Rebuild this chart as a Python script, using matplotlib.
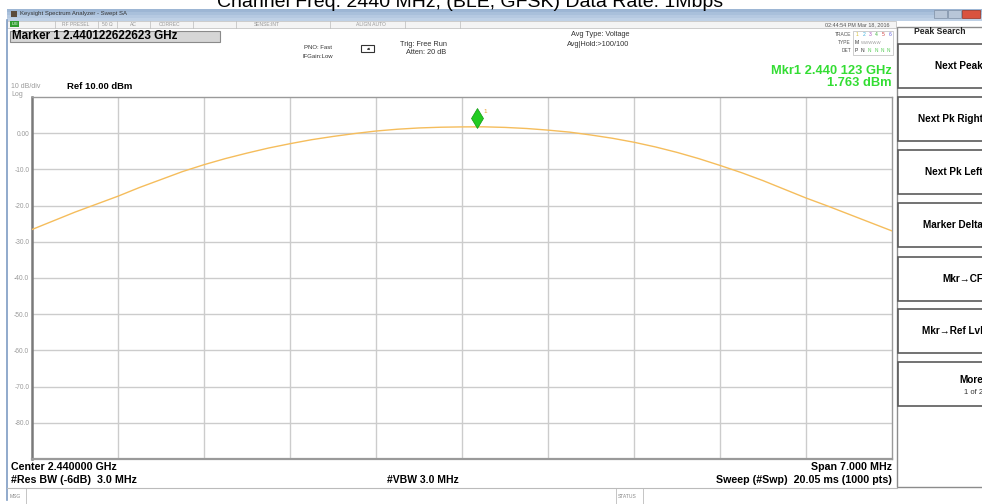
import matplotlib
matplotlib.use("Agg")
import matplotlib.pyplot as plt
from matplotlib.patches import Rectangle
from matplotlib.transforms import offset_copy

W, H = 982, 504
FONT = ["Liberation Sans", "DejaVu Sans"]

# ---- measurement data -------------------------------------------------
center_mhz = 2440.0
span_mhz = 7.0
ref_level_dbm = 10.0
db_per_div = 10.0

# sweep frequencies (MHz) and averaged trace level (dBm)
trace_freq_mhz = [
    2436.500, 2436.675, 2436.850, 2437.025, 2437.200, 2437.375, 2437.550,
    2437.725, 2437.900, 2438.075, 2438.250, 2438.425, 2438.600, 2438.775,
    2438.950, 2439.125, 2439.300, 2439.475, 2439.650, 2439.825, 2440.000,
    2440.175, 2440.350, 2440.525, 2440.700, 2440.875, 2441.050, 2441.225,
    2441.400, 2441.575, 2441.750, 2441.925, 2442.100, 2442.275, 2442.450,
    2442.625, 2442.800, 2442.975, 2443.150, 2443.325, 2443.500,
]
trace_dbm = [
    -26.6, -24.2, -21.8, -19.6, -17.4, -15.0, -12.8, -10.6, -8.7, -7.0,
    -5.5, -4.1, -2.9, -1.8, -0.9, -0.1, 0.6, 1.1, 1.45, 1.65, 1.74,
    1.76, 1.6, 1.3, 0.85, 0.3, -0.5, -1.4, -2.5, -3.8, -5.3, -7.0,
    -8.9, -10.9, -13.1, -15.5, -17.9, -20.1, -22.4, -24.7, -27.0,
]

marker_freq_mhz = 2440.122622623
marker_dbm = 1.763

y_tick_values = [0, -10, -20, -30, -40, -50, -60, -70, -80]
y_tick_labels = ["0.00", "-10.0", "-20.0", "-30.0", "-40.0",
                 "-50.0", "-60.0", "-70.0", "-80.0"]

softkeys = ["Next Peak", "Next Pk Right", "Next Pk Left", "Marker Delta",
            "Mkr\u2192CF", "Mkr\u2192Ref Lvl"]

# ---- figure and screen overlay (pixel coordinates) ---------------------
fig = plt.figure(figsize=(W / 100, H / 100), dpi=100)
fig.patch.set_facecolor("white")
scr = fig.add_axes([0, 0, 1, 1], zorder=0)
scr.set_xlim(0, W)
scr.set_ylim(H, 0)
scr.axis("off")


def txt(x, y, s, size, color="black", weight="normal", ha="left", va="center", **kw):
    scr.text(x, y, s, fontsize=size, color=color, fontweight=weight,
             ha=ha, va=va, family=FONT, **kw)


def box(x0, y0, x1, y1, fc="none", ec="none", lw=1.0, z=1):
    scr.add_patch(Rectangle((x0, y0), x1 - x0, y1 - y0, facecolor=fc,
                            edgecolor=ec, linewidth=lw, zorder=z))


# chart title (runs off the top edge)
txt(470, 7.0, "Channel Freq: 2440 MHz, (BLE, GFSK) Data Rate: 1Mbps", 14,
    ha="center", va="baseline")

# window title bar
for i, c in enumerate(["#9db6d4", "#a9c0db", "#b5c9e1", "#bfd1e6"]):
    box(7, 8.5 + i * 3, W, 11.5 + i * 3, fc=c, z=1)
box(11, 11, 17, 17, fc="#5a4a3a", z=2)
txt(20, 14, "Keysight Spectrum Analyzer - Swept SA", 4.3, color="#333333")
box(934, 10, 947, 18, fc="#b8c6d8", ec="#7f8fa5", lw=0.5, z=2)
box(948, 10, 961, 18, fc="#b8c6d8", ec="#7f8fa5", lw=0.5, z=2)
box(962, 10, 980, 18, fc="#d9533f", ec="#9a3020", lw=0.5, z=2)

# status row
box(7, 20.5, 896, 27.5, fc="#f4f4f4", ec="#bbbbbb", lw=0.5)
box(10, 21, 19, 27, fc="#2f9e2f", z=2)
txt(14.5, 24, "LXI", 3.2, color="white", ha="center")
for xs in [55, 98, 117, 150, 193, 236, 330, 405, 460]:
    scr.plot([xs, xs], [20.5, 27.5], color="#bbbbbb", lw=0.5)
for xs, s in [(76, "RF PRESEL"), (107, "50 \u03a9"), (133, "AC"),
              (170, "CORREC"), (267, "SENSE:INT"), (371, "ALIGN AUTO")]:
    txt(xs, 24, s, 3.6, color="#999999", ha="center")

# left window edge
scr.plot([7.5, 7.5], [20, 500], color="#7e9cc4", lw=1.2)

# marker readout box
box(10, 30.5, 220, 41.5, fc="#d6d6d6", ec="#8a8a8a", lw=0.8)
txt(12, 36, "Marker 1 2.440122622623 GHz", 8.4, weight="bold")

# acquisition settings
txt(318, 47.5, "PNO: Fast", 4.3, color="#333333", ha="center")
txt(318, 56.5, "IFGain:Low", 4.3, color="#333333", ha="center")
box(361, 45, 374, 52, fc="white", ec="#333333", lw=0.8, z=2)
scr.annotate("", xy=(364, 50), xytext=(371, 48.5),
             arrowprops=dict(arrowstyle="-|>", color="#333333", lw=0.6,
                             mutation_scale=3))
txt(400, 44, "Trig: Free Run", 5.3, color="#333333")
txt(406, 53, "Atten: 20 dB", 5.3, color="#333333")
txt(571, 35, "Avg Type: Voltage", 5.3, color="#333333")
txt(567, 44, "Avg|Hold:>100/100", 5.3, color="#333333")

# date and trace table
txt(890, 25, "02:44:54 PM Mar 18, 2016", 3.9, color="#555555", ha="right")
txt(851, 35, "TRACE", 3.5, color="#555555", ha="right")
txt(851, 43, "TYPE", 3.5, color="#555555", ha="right")
txt(851, 51, "DET", 3.5, color="#555555", ha="right")
box(853, 31, 893, 55, fc="white", ec="#bbbbbb", lw=0.5)
trace_cols = ["#d8c23a", "#3ab0e0", "#b050c0", "#40b040", "#d04040", "#6060e0"]
for i, c in enumerate(trace_cols):
    txt(857 + i * 6.6, 35, str(i + 1), 3.6, color=c, ha="center")
txt(855, 43, "M", 3.6, color="#333333")
txt(861, 43, "WWWWW", 3.2, color="#9a9a9a")
txt(855, 51, "P", 3.6, color="#333333")
txt(861, 51, "N", 3.6, color="#333333")
for i in range(4):
    txt(868 + i * 6.3, 51, "N", 3.4, color="#55cc55")

# marker readout (green)
txt(892, 71, "Mkr1 2.440 123 GHz", 9.3, color="#33dd33", weight="bold", ha="right")
txt(892, 83, "1.763 dBm", 9.3, color="#33dd33", weight="bold", ha="right")

# scale annotations
txt(11, 86.5, "10 dB/div", 5.0, color="#9a9a9a")
txt(11, 94.5, "Log", 5.0, color="#9a9a9a")
txt(67, 86.5, "Ref 10.00 dBm", 6.8, weight="bold")

# bottom annotations
txt(11, 467, "Center 2.440000 GHz", 7.7, weight="bold")
txt(11, 480, "#Res BW (-6dB)  3.0 MHz", 7.7, weight="bold")
txt(387, 480, "#VBW 3.0 MHz", 7.5, weight="bold")
txt(892, 467, "Span 7.000 MHz", 7.7, weight="bold", ha="right")
txt(892, 480, "Sweep (#Swp)  20.05 ms (1000 pts)", 7.7, weight="bold", ha="right")

# message bar
scr.plot([7, 897], [488, 488], color="#bbbbbb", lw=0.8)
scr.plot([26, 26], [488, 504], color="#bbbbbb", lw=0.6)
scr.plot([616, 616], [488, 504], color="#bbbbbb", lw=0.6)
scr.plot([643, 643], [488, 504], color="#bbbbbb", lw=0.6)
txt(10, 497, "MSG", 3.6, color="#888888")
txt(618, 497, "STATUS", 3.6, color="#888888")

# softkey panel
box(897, 27, 990, 487, fc="white", ec="#8c8c8c", lw=1.0)
txt(940, 32, "Peak Search", 6.2, weight="bold", color="#222222", ha="center")
key_tops = [43.5, 96.5, 149.5, 202.5, 256.5, 308.5]
for top, label in zip(key_tops, softkeys):
    box(898, top, 990, top + 44.5, fc="white", ec="#5a5a5a", lw=1.2, z=2)
    txt(983, top + 22.5, label, 7.2, weight="bold", ha="right")
box(898, 361.5, 990, 405.5, fc="white", ec="#5a5a5a", lw=1.2, z=2)
txt(983, 380, "More", 7.2, weight="bold", ha="right")
txt(983, 392, "1 of 2", 5.5, color="#333333", ha="right")

# ---- trace display -------------------------------------------------------
ax = fig.add_axes([32 / W, 1 - 459 / H, 860 / W, 362 / H], zorder=1)
ax.set_facecolor("white")
f_lo, f_hi = center_mhz - span_mhz / 2, center_mhz + span_mhz / 2
ax.set_xlim(f_lo, f_hi)
ax.set_ylim(ref_level_dbm - 10 * db_per_div, ref_level_dbm)
ax.set_xticks([f_lo + span_mhz / 10 * i for i in range(1, 10)])
ax.set_xticklabels([])
ax.set_yticks(y_tick_values)
ax.set_yticklabels(y_tick_labels)
ax.tick_params(axis="both", length=0, pad=2)
ax.tick_params(axis="y", labelsize=4.8, labelcolor="#9a9a9a")
for lbl in ax.get_yticklabels():
    lbl.set_family(FONT)
ax.grid(True, color="#cccccc", lw=1.0)
ax.set_axisbelow(True)
for side, sp in ax.spines.items():
    sp.set_color("#9a9a9a")
    sp.set_linewidth(1.0)
ax.spines["left"].set_color("#7a7a7a")
ax.spines["left"].set_linewidth(1.8)
ax.spines["bottom"].set_linewidth(1.6)

ax.plot(trace_freq_mhz, trace_dbm, color="#f5bd5c", lw=1.0, zorder=3)

# marker 1 diamond sitting on the trace
mk_tr = offset_copy(ax.transData, fig=fig, x=0, y=6.5, units="points")
ax.plot([marker_freq_mhz], [marker_dbm], marker="d", markersize=10,
        color="#22cc22", markeredgecolor="#119911", markeredgewidth=0.5,
        transform=mk_tr, zorder=4, clip_on=False)
lbl_tr = offset_copy(ax.transData, fig=fig, x=6, y=11, units="points")
ax.text(marker_freq_mhz, marker_dbm, "1", transform=lbl_tr, fontsize=4.5,
        color="#e8a030", family=FONT, ha="center", va="center", zorder=4)

fig.savefig("out.png", dpi=100, facecolor="white")
